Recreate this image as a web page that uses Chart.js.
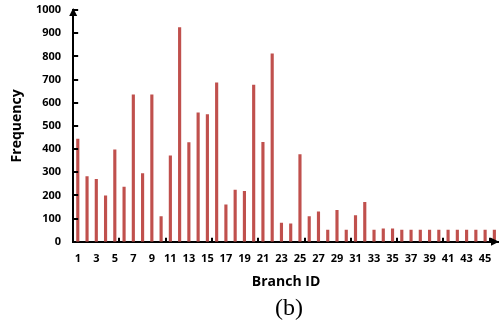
<!DOCTYPE html>
<html>
<head>
<meta charset="utf-8">
<script src="https://cdn.jsdelivr.net/npm/chart.js@4"></script>
<style>
html,body{margin:0;padding:0;background:#fff;}
#wrap{position:relative;width:499px;height:323px;}
#cap{position:absolute;left:259px;top:294px;width:60px;text-align:center;
     font-family:"Liberation Serif","Times New Roman",serif;font-size:24px;line-height:26px;color:#000;}
</style>
</head>
<body>
<div id="wrap"><canvas id="c" width="499" height="323"></canvas><div id="cap">(b)</div></div>
<script>
const branchIds = Array.from({length:46}, (_, i) => String(i + 1));
const frequency = [445, 283, 271, 200, 398, 238, 635, 296, 635, 110,
                   372, 926, 429, 558, 550, 687, 161, 225, 219, 678,
                   431, 812, 82, 79, 378, 110, 131, 52, 137, 52,
                   115, 172, 52, 57, 57, 52, 52, 52, 52, 52,
                   52, 52, 52, 52, 52, 52];
const yTicks = [0, 100, 200, 300, 400, 500, 600, 700, 800, 900, 1000];

const axisDeco = {
  id: 'axisDeco',
  afterDraw(chart) {
    const ctx = chart.ctx;
    const x = chart.scales.x, y = chart.scales.y;
    const ax = x.left, ay = y.bottom;
    ctx.save();
    ctx.fillStyle = '#000';
    ctx.strokeStyle = '#000';
    ctx.lineWidth = 2;
    yTicks.forEach(v => {
      if (v === 0) return;
      const py = Math.round(y.getPixelForValue(v));
      ctx.beginPath();
      ctx.moveTo(ax, py);
      ctx.lineTo(ax + 5, py);
      ctx.stroke();
    });
    const w = (x.right - x.left) / branchIds.length;
    for (let i = 5; i < branchIds.length; i += 5) {
      const px = Math.round(x.left + i * w);
      ctx.beginPath();
      ctx.moveTo(px, ay);
      ctx.lineTo(px, ay - 4);
      ctx.stroke();
    }
    ctx.beginPath();
    ctx.moveTo(ax, y.top - 2);
    ctx.lineTo(ax - 4, y.top + 6);
    ctx.lineTo(ax + 4, y.top + 6);
    ctx.closePath();
    ctx.fill();
    ctx.beginPath();
    ctx.moveTo(chart.width, ay);
    ctx.lineTo(chart.width - 8, ay - 4);
    ctx.lineTo(chart.width - 8, ay + 4);
    ctx.closePath();
    ctx.fill();
    ctx.restore();
  }
};

new Chart(document.getElementById('c'), {
  type: 'bar',
  data: {
    labels: branchIds,
    datasets: [{
      data: frequency,
      backgroundColor: '#C0504D',
      barPercentage: 0.34,
      categoryPercentage: 1.0
    }]
  },
  options: {
    responsive: false,
    animation: false,
    layout: { padding: { top: 0, right: 0, left: 10, bottom: 29 } },
    plugins: {
      legend: { display: false },
      tooltip: { enabled: false }
    },
    scales: {
      x: {
        grid: { display: false, drawTicks: false },
        border: { display: true, color: '#000', width: 2 },
        afterFit: (s) => { s.paddingRight = 0; },
        ticks: {
          autoSkip: false,
          maxRotation: 0,
          minRotation: 0,
          padding: 10,
          color: '#000',
          font: { family: '"Open Sans", sans-serif', size: 11, weight: 'bold' },
          callback: (v, i) => (i % 2 === 0 ? branchIds[i] : '')
        },
        title: {
          display: true,
          text: 'Branch ID',
          color: '#000',
          font: { family: '"Open Sans", sans-serif', size: 14, weight: 'bold', lineHeight: 1.0 },
          padding: { top: 0, bottom: 5 }
        }
      },
      y: {
        min: 0,
        max: 1000,
        grid: { display: false, drawTicks: false },
        border: { display: true, color: '#000', width: 2 },
        afterBuildTicks: (s) => { s.ticks = yTicks.map(v => ({ value: v })); },
        afterFit: (s) => { s.paddingTop = 10; },
        ticks: {
          padding: 12,
          color: '#000',
          font: { family: '"Open Sans", sans-serif', size: 11, weight: 'bold' },
          callback: (v) => String(v)
        },
        title: {
          display: true,
          text: 'Frequency',
          color: '#000',
          font: { family: '"Open Sans", sans-serif', size: 14, weight: 'bold', lineHeight: 1.0 },
          padding: { top: 0, bottom: 0 }
        }
      }
    }
  },
  plugins: [axisDeco]
});
</script>
</body>
</html>
